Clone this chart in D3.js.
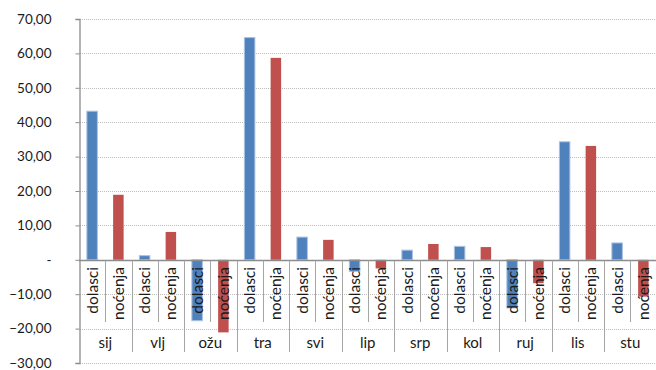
<!DOCTYPE html>
<html lang="hr">
<head>
<meta charset="UTF-8">
<title>Dolasci i noćenja</title>
<script src="https://d3js.org/d3.v7.min.js"></script>
<style>
  body { margin: 0; background: #fff; }
  svg { display: block; font-family: Lato, "Open Sans", sans-serif; }
</style>
</head>
<body>
<svg></svg>
<script>
const months = ["sij", "vlj", "ožu", "tra", "svi", "lip", "srp", "kol", "ruj", "lis", "stu"];
const seriesNames = ["dolasci", "noćenja"];
const dolasci = [43.2, 1.2, -17.7, 64.6, 6.6, -3.4, 2.8, 3.9, -14.0, 34.3, 4.9];
const nocenja = [18.9, 8.1, -21.1, 58.7, 5.8, -2.5, 4.6, 3.7, -6.8, 33.1, -10.7];
const yTicks = [-30, -20, -10, 0, 10, 20, 30, 40, 50, 60, 70];

const width = 656, height = 370;
const plotLeft = 79, plotRight = 656.5, plotTop = 19, plotBottom = 363;

const colors = { "dolasci": "#4F81BD", "noćenja": "#C0504D" };

const rows = [];
months.forEach((m, i) => {
    rows.push({ month: m, key: "dolasci", value: dolasci[i] });
    rows.push({ month: m, key: "noćenja", value: nocenja[i] });
});

const svg = d3.select("svg")
    .attr("width", width)
    .attr("height", height);

const x0 = d3.scaleBand().domain(months).range([plotLeft, plotRight]).padding(0);
const x1 = d3.scaleBand().domain(seriesNames).range([0, x0.bandwidth()]).padding(0);
const y = d3.scaleLinear().domain([-30, 70]).range([plotBottom, plotTop]);

const fmt = v => v === 0 ? "-" : d3.format(".2f")(v).replace(".", ",");

// gridlines
svg.append("g")
    .selectAll("line")
    .data(yTicks.filter(d => d !== 0))
    .join("line")
    .attr("x1", plotLeft + 1)
    .attr("x2", plotRight)
    .attr("y1", d => Math.round(y(d)) + 0.5)
    .attr("y2", d => Math.round(y(d)) + 0.5)
    .attr("stroke", "#BDBDBD")
    .attr("stroke-dasharray", "1,1");

// y axis
const yAxis = svg.append("g")
    .attr("transform", `translate(${plotLeft + 0.5},0)`)
    .call(d3.axisLeft(y).tickValues(yTicks).tickSize(4).tickPadding(24).tickFormat(fmt));
yAxis.select(".domain").attr("stroke", "#8C8C8C").attr("stroke-width", 1.3);
yAxis.selectAll(".tick line").attr("stroke", "#8C8C8C");
yAxis.selectAll(".tick text")
    .attr("font-size", "13.5px")
    .attr("font-family", "Lato, sans-serif")
    .attr("fill", "#1a1a1a");

// bars
const barW = x1.bandwidth() * 0.4;
svg.append("g")
    .selectAll("rect")
    .data(rows)
    .join("rect")
    .attr("x", d => x0(d.month) + x1(d.key) + (x1.bandwidth() - barW) / 2)
    .attr("width", barW)
    .attr("y", d => y(Math.max(0, d.value)))
    .attr("height", d => Math.abs(y(d.value) - y(0)))
    .attr("fill", d => colors[d.key])
    .attr("stroke", d => d.key === "dolasci" ? "#A9C1E0" : "none")
    .attr("stroke-width", 1);

// category axis line
const y0 = Math.round(y(0)) + 0.5;
svg.append("line")
    .attr("x1", plotLeft).attr("x2", plotRight)
    .attr("y1", y0).attr("y2", y0)
    .attr("stroke", "#8C8C8C").attr("stroke-width", 1.3);

// separators
const seps = svg.append("g").attr("stroke", "#A6A6A6");
months.forEach((m, i) => {
    const xb = Math.round(x0(m)) + 0.5;
    if (i > 0) {
        seps.append("line").attr("x1", xb).attr("x2", xb).attr("y1", y0).attr("y2", 352);
    }
    const xm = Math.round(x0(m) + x1("noćenja")) + 0.5;
    seps.append("line").attr("x1", xm).attr("x2", xm).attr("y1", y0).attr("y2", 322);
});

// series labels (rotated)
svg.append("g")
    .selectAll("text")
    .data(rows)
    .join("text")
    .attr("transform", d => `translate(${x0(d.month) + x1(d.key) + x1.bandwidth() / 2},267) rotate(-90)`)
    .attr("text-anchor", "end")
    .attr("dy", "0.35em")
    .attr("font-size", "15.5px")
    .attr("fill", "#1a1a1a")
    .text(d => d.key);

// month labels
svg.append("g")
    .selectAll("text")
    .data(months)
    .join("text")
    .attr("x", d => x0(d) + x0.bandwidth() / 2)
    .attr("y", 343)
    .attr("dy", "0.35em")
    .attr("text-anchor", "middle")
    .attr("font-size", "15px")
    .attr("fill", "#1a1a1a")
    .text(d => d);
</script>
</body>
</html>
